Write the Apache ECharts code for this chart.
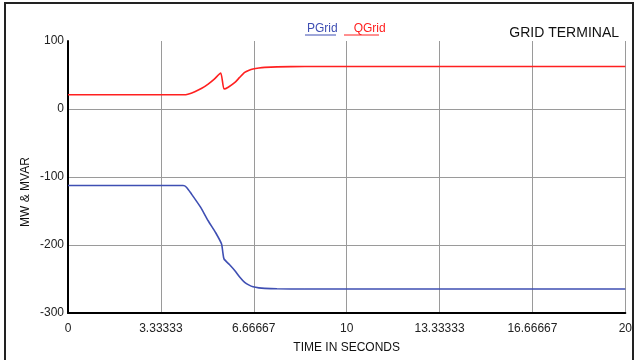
<!DOCTYPE html>
<html>
<head>
<meta charset="utf-8">
<script src="https://cdn.jsdelivr.net/npm/echarts@6/dist/echarts.min.js"></script>
<style>
  html, body { margin: 0; padding: 0; background: #fff; }
  #chart { width: 635px; height: 360px; }
</style>
</head>
<body>
<div id="chart"></div>
<script>
// time samples (seconds) and values
const timeP = [0, 4.13, 4.25, 4.43, 4.75, 5.03, 5.3, 5.51, 5.56, 5.6, 5.8, 5.99, 6.16, 6.34, 6.5, 6.64, 6.85, 7.06, 7.5, 8.5, 20];
const valuesP = [-112.5, -112.5, -115, -125, -144, -164.3, -182, -198.5, -212, -220.6, -229, -237.8, -247, -255, -259, -261.3, -263, -263.8, -264.4, -264.7, -264.7];

const timeQ = [0, 4.15, 4.3, 4.55, 4.8, 5.03, 5.25, 5.48, 5.6, 5.75, 5.99, 6.16, 6.34, 6.5, 6.64, 6.85, 7.06, 7.5, 8.5, 20];
const valuesQ = [21, 21, 21.8, 25.4, 30.5, 36.7, 44, 53, 29.4, 32, 39, 46.5, 53.8, 57, 58.8, 60.3, 61.2, 62, 62.6, 62.6];

const seriesNames = ["PGrid", "QGrid"];
const seriesColors = ["#3f4fb3", "#ff2020"];

const toPairs = (t, v) => t.map((x, i) => [x, v[i]]);

const font = "'Liberation Sans', Arial, sans-serif";
const chart = echarts.init(document.getElementById("chart"));

const option = {
  animation: false,
  backgroundColor: "#fff",
  textStyle: { fontFamily: font },
  grid: { left: 68, right: 9, top: 41, bottom: 47, containLabel: false },
  legend: {
    data: seriesNames.map((n, i) => ({ name: n, textStyle: { color: seriesColors[i] } })),
    left: 302,
    top: 23,
    icon: "none",
    itemWidth: 0,
    itemHeight: 0,
    itemGap: 11,
    padding: 0,
    selectedMode: false,
    textStyle: { fontSize: 12, fontFamily: font, padding: [0, 0, 0, 0] }
  },
  title: {
    text: "GRID TERMINAL",
    right: 16,
    top: 26,
    padding: 0,
    textStyle: { fontSize: 14, fontWeight: "normal", color: "#111", fontFamily: font }
  },
  xAxis: {
    type: "value",
    min: 0,
    max: 20,
    interval: 10 / 3,
    name: "TIME IN SECONDS",
    nameLocation: "middle",
    nameGap: 29,
    nameTextStyle: { fontSize: 12, color: "#111", fontFamily: font },
    axisLine: { show: true, onZero: false, lineStyle: { color: "#000", width: 2 } },
    axisTick: { show: false },
    axisLabel: {
      fontSize: 12,
      color: "#222",
      margin: 10,
      formatter: (v) => String(parseFloat(v.toFixed(5)))
    },
    splitLine: { show: true, lineStyle: { color: "#9a9a9a", width: 1 } }
  },
  yAxis: {
    type: "value",
    min: -300,
    max: 100,
    interval: 100,
    axisLine: { show: true, onZero: false, lineStyle: { color: "#000", width: 2 } },
    axisTick: { show: false },
    axisLabel: { fontSize: 12, color: "#222", margin: 4 },
    splitLine: { show: true, showMaxLine: false, lineStyle: { color: "#9a9a9a", width: 1 } }
  },
  graphic: [
    {
      type: "rect",
      shape: { x: 5, y: 3, width: 628, height: 362 },
      style: { fill: "none", stroke: "#222", lineWidth: 2 },
      silent: true
    },
    {
      type: "text",
      x: 26,
      y: 192,
      rotation: Math.PI / 2,
      style: {
        text: "MW & MVAR",
        font: "12px " + font,
        fill: "#111",
        align: "center",
        verticalAlign: "middle"
      },
      silent: true
    },
    {
      type: "line",
      shape: { x1: 305, y1: 35, x2: 336, y2: 35 },
      style: { stroke: seriesColors[0], lineWidth: 1 },
      silent: true
    },
    {
      type: "line",
      shape: { x1: 344, y1: 35, x2: 379, y2: 35 },
      style: { stroke: seriesColors[1], lineWidth: 1 },
      silent: true
    }
  ],
  series: [
    {
      name: seriesNames[0],
      type: "line",
      symbol: "none",
      smooth: 0.2,
      data: toPairs(timeP, valuesP),
      lineStyle: { color: seriesColors[0], width: 1.6 },
      itemStyle: { color: seriesColors[0] }
    },
    {
      name: seriesNames[1],
      type: "line",
      symbol: "none",
      smooth: 0.2,
      data: toPairs(timeQ, valuesQ),
      lineStyle: { color: seriesColors[1], width: 1.6 },
      itemStyle: { color: seriesColors[1] }
    }
  ]
};

chart.setOption(option);
</script>
</body>
</html>
